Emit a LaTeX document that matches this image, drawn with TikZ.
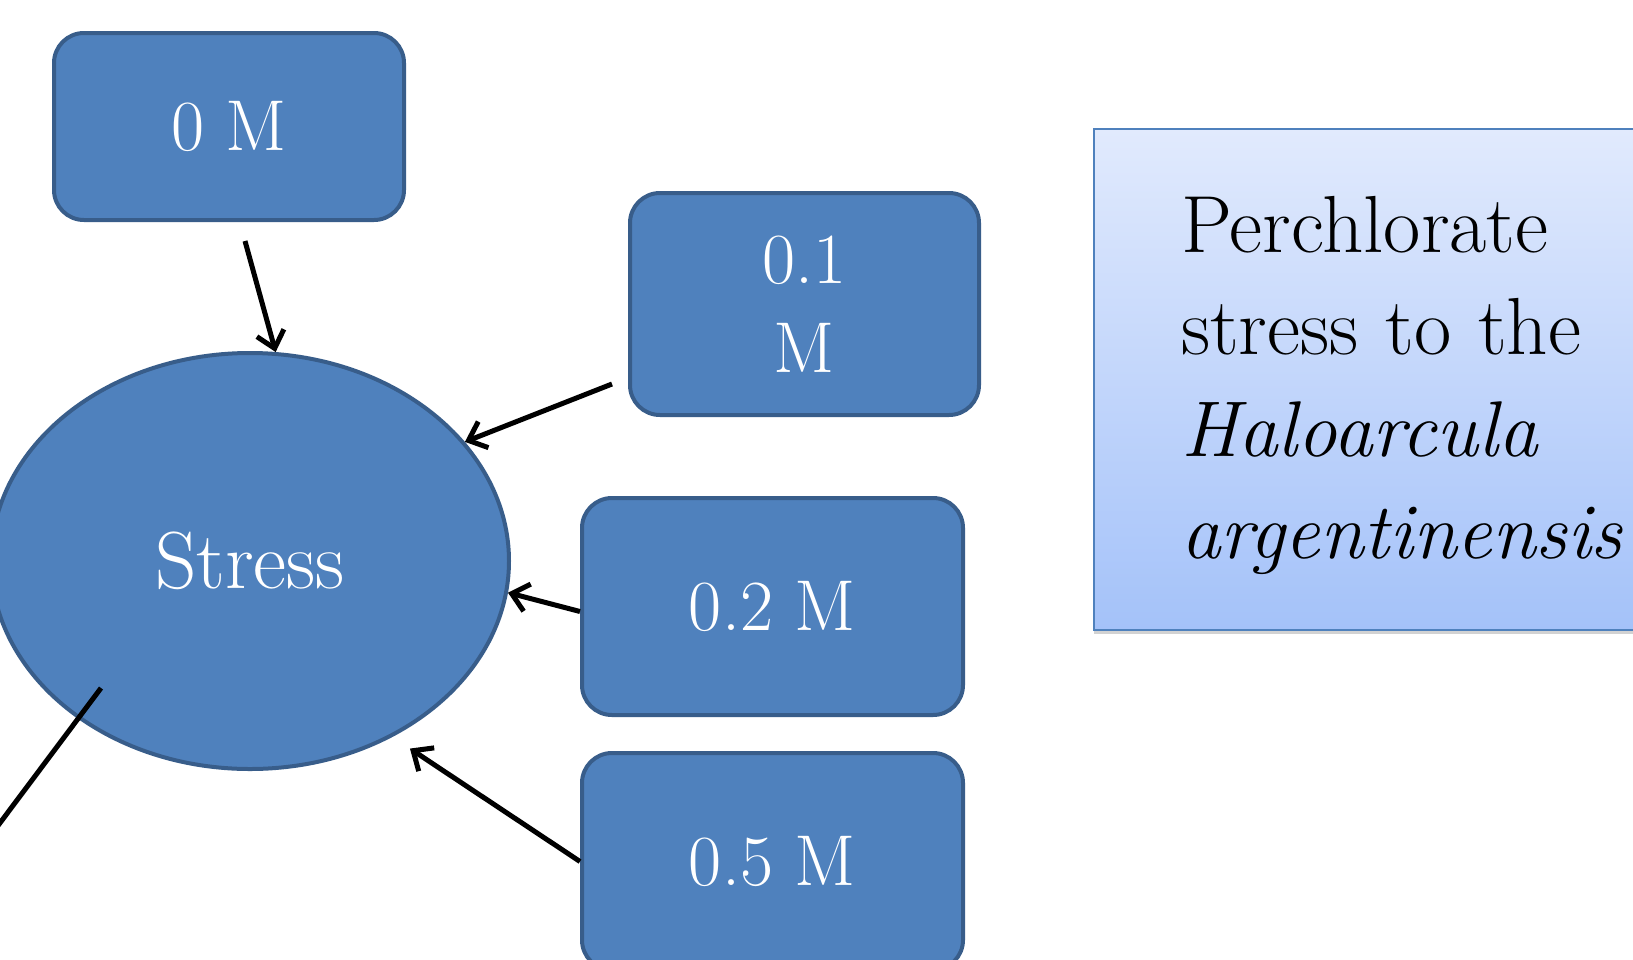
\documentclass[tikz,border=0pt]{standalone}
\usepackage{fontspec}
\usepackage{xcolor}
\usetikzlibrary{
  arrows.meta,
  positioning,
  shapes.geometric,
  calc,
  shadows
}
\definecolor{boxblue}{RGB}{79, 129, 189}
\definecolor{edgeblue}{RGB}{56, 93, 138}
\definecolor{notetop}{RGB}{225, 234, 253}
\definecolor{notebot}{RGB}{164, 194, 249}

\begin{document}
\begin{tikzpicture}[x=1pt, y=-1pt,
  conc/.style={rectangle, rounded corners=30pt, line width=4pt,
               draw=edgeblue, fill=boxblue, text=white, align=center,
               inner sep=0pt, font=\fontsize{72}{89}\selectfont},
  stressnode/.style={ellipse, line width=4pt, draw=edgeblue, fill=boxblue,
               text=white, inner sep=0pt, minimum width=518pt,
               minimum height=416pt, font=\fontsize{81}{90}\selectfont},
  note/.style={rectangle, draw=boxblue, line width=2pt,
               top color=notetop, bottom color=notebot,
               drop shadow={shadow xshift=0pt, shadow yshift=-4pt, opacity=0.35},
               minimum height=501pt, text width=520pt, align=left,
               inner xsep=87pt, inner ysep=0pt,
               font=\fontsize{81}{102}\selectfont},
  arr/.style={-{Straight Barb[length=16pt, width=28pt]}, line width=5pt},
  plain/.style={line width=5pt}
]
\clip (0,0) rectangle (1633,959);
\fill[white] (0,0) rectangle (1633,959);
% concentrations
\node[conc, minimum width=350pt, minimum height=187pt] (zero) at (229,126.5) {0 M};
\node[conc, minimum width=349pt, minimum height=222pt] (p1) at (804.5,304) {0.1\\ M};
\node[conc, minimum width=381pt, minimum height=217pt] (p2) at (772.5,606.5) {0.2 M};
\node[conc, minimum width=381pt, minimum height=217pt,
      below=34pt of p2] (p5) {0.5 M};
\node[stressnode] (stress) at (250,561) {Stress};
% title box
\node[note, anchor=north west] (title) at (1093,128)
  {\rule{0pt}{69pt}Perchlorate\\ stress to the\\
   {\fontsize{79}{102}\selectfont\itshape Haloarcula}\\
   {\fontsize{79}{102}\selectfont\itshape argentinensis}};
% connectors
\draw[arr] ($(zero.south)+(16,19)$) -- (stress.83);
\draw[arr] ($(p1.west)+(-16,80)$) -- (stress.29);
\draw[arr] ($(p2.west)+(0,5)$) -- (stress.-7);
\draw[arr, shorten >=21pt] (p5.west) -- (stress.-51);
\coordinate (cut) at (-30,863);
\draw[plain] ($(stress.center)+(-149,127)$) -- (cut);
\end{tikzpicture}
\end{document}
